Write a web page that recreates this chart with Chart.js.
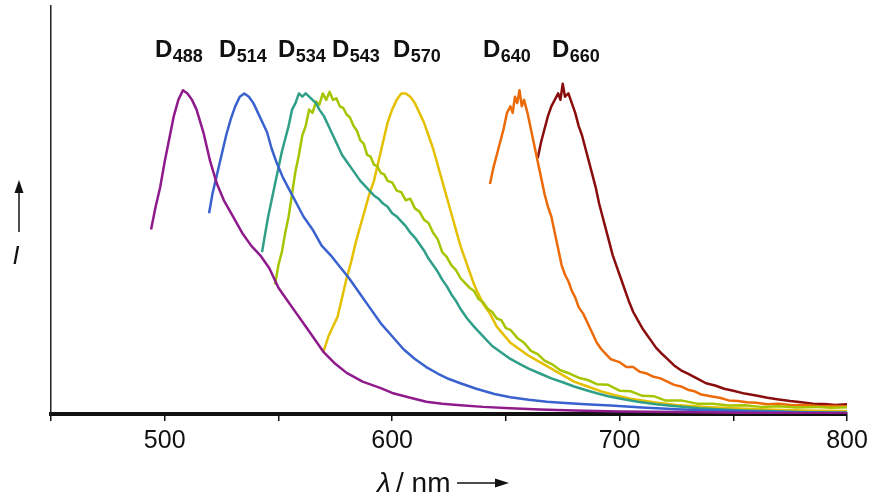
<!DOCTYPE html>
<html>
<head>
<meta charset="utf-8">
<script src="https://cdn.jsdelivr.net/npm/chart.js@4"></script>
<style>
  html, body { margin: 0; padding: 0; background: #fff; }
  #wrap { position: relative; width: 879px; height: 499px; }
</style>
</head>
<body>
<div id="wrap"><canvas id="spectra"></canvas></div>
<script>
// emission spectra, [wavelength nm, normalised intensity]
const d488 = [[494,0.57],[496,0.64],[498,0.70],[500,0.78],[502,0.85],[504,0.92],[506,0.97],[508,1.00],[510,0.99],[512,0.97],[514,0.94],[517,0.87],[520,0.78],[523,0.71],[526,0.66],[530,0.61],[534,0.56],[538,0.52],[542,0.49],[546,0.45],[550,0.39],[554,0.35],[558,0.31],[562,0.27],[566,0.23],[570,0.19],[575,0.155],[580,0.127],[587,0.10],[595,0.08],[600,0.065],[608,0.05],[615,0.038],[622,0.032],[630,0.027],[640,0.022],[652,0.018],[665,0.014],[680,0.011],[700,0.008],[725,0.006],[750,0.004],[775,0.003],[800,0.002]];
const d514 = [[519.5,0.62],[521,0.68],[523,0.74],[525,0.80],[527,0.86],[529,0.91],[531,0.95],[533,0.98],[535,0.99],[537,0.98],[539,0.96],[541,0.93],[543,0.90],[545,0.87],[547,0.82],[549,0.78],[552,0.73],[555,0.69],[558,0.65],[561,0.61],[565,0.57],[569,0.52],[573,0.49],[577,0.455],[581,0.42],[585,0.38],[590,0.33],[595,0.28],[600,0.24],[605,0.20],[610,0.17],[615,0.145],[620,0.125],[625,0.108],[630,0.095],[637,0.078],[645,0.062],[652,0.052],[660,0.044],[668,0.038],[676,0.034],[685,0.03],[696,0.026],[710,0.02],[725,0.015],[740,0.011],[760,0.008],[780,0.005],[800,0.004]];
const d534 = [[542.8,0.50],[544,0.55],[545.5,0.61],[547,0.66],[548.5,0.71],[550,0.76],[551.5,0.81],[553,0.85],[554.5,0.89],[556,0.94],[557.5,0.96],[559,0.99],[560.5,0.98],[562,0.99],[563.5,0.98],[565,0.97],[566.5,0.96],[568,0.94],[570,0.92],[572,0.89],[574,0.86],[576,0.83],[578,0.80],[580,0.78],[582,0.76],[584,0.74],[586,0.72],[588,0.705],[590,0.69],[592,0.675],[594,0.665],[596,0.65],[598,0.64],[600,0.62],[602,0.61],[604,0.595],[606,0.58],[608,0.56],[610,0.545],[612,0.525],[614,0.505],[616,0.48],[618,0.46],[620,0.44],[622,0.415],[624,0.395],[626,0.37],[628,0.35],[630,0.325],[633,0.295],[636,0.27],[640,0.24],[644,0.21],[648,0.19],[652,0.17],[656,0.155],[660,0.14],[665,0.125],[670,0.11],[675,0.098],[680,0.085],[685,0.074],[690,0.064],[695,0.055],[700,0.048],[708,0.038],[716,0.03],[725,0.024],[735,0.018],[745,0.014],[755,0.011],[765,0.009],[775,0.007],[788,0.005],[800,0.004]];
const d543 = [[548.5,0.40],[550,0.46],[551.5,0.50],[553,0.56],[554.5,0.61],[556,0.68],[557.5,0.75],[559,0.80],[560.5,0.86],[562,0.89],[563.5,0.94],[565,0.93],[566.5,0.965],[568,0.955],[569.5,0.99],[571,0.97],[572.5,0.995],[574,0.97],[575.5,0.975],[577,0.95],[578.5,0.945],[580,0.925],[581.5,0.915],[583,0.89],[584.5,0.875],[586,0.845],[587.5,0.835],[589,0.80],[590.5,0.795],[592,0.77],[593.5,0.765],[595,0.745],[596.5,0.74],[598,0.72],[600,0.715],[602,0.69],[604,0.685],[606,0.66],[608,0.665],[610,0.635],[612,0.625],[614,0.60],[616,0.59],[618,0.56],[620,0.54],[622,0.50],[624,0.485],[626,0.46],[628,0.445],[630,0.42],[632,0.405],[634,0.39],[636,0.38],[638,0.355],[640,0.345],[642,0.325],[644,0.315],[646,0.295],[648,0.29],[650,0.265],[652,0.26],[655,0.235],[658,0.22],[661,0.195],[664,0.185],[667,0.165],[670,0.155],[674,0.135],[678,0.125],[682,0.112],[686,0.105],[690,0.092],[695,0.09],[700,0.072],[705,0.07],[710,0.056],[715,0.055],[720,0.042],[727,0.042],[734,0.032],[741,0.032],[748,0.026],[755,0.027],[762,0.022],[770,0.024],[778,0.02],[786,0.022],[793,0.019],[800,0.021]];
const d570 = [[569.7,0.19],[572,0.24],[574,0.27],[576,0.30],[578,0.36],[580,0.42],[582,0.47],[584,0.53],[586,0.58],[588,0.63],[590,0.68],[592,0.72],[594,0.78],[596,0.84],[598,0.90],[600,0.94],[602,0.97],[604,0.99],[606,0.99],[608,0.98],[610,0.96],[612,0.93],[614,0.90],[616,0.86],[618,0.82],[620,0.77],[622,0.72],[624,0.67],[626,0.62],[628,0.57],[630,0.52],[632,0.48],[634,0.44],[636,0.40],[638,0.37],[640,0.34],[643,0.31],[646,0.27],[649,0.245],[652,0.22],[656,0.20],[660,0.18],[665,0.16],[670,0.14],[675,0.12],[680,0.10],[686,0.085],[692,0.07],[698,0.058],[705,0.047],[715,0.036],[725,0.028],[738,0.022],[750,0.018],[765,0.014],[780,0.011],[800,0.009]];
const d640 = [[643,0.71],[644.5,0.76],[646,0.80],[647.5,0.84],[649,0.88],[650.5,0.93],[652,0.95],[653,0.93],[654,0.98],[655,0.96],[656,1.00],[657,0.95],[658,0.97],[659.5,0.93],[661,0.88],[662.5,0.83],[664,0.78],[665.5,0.73],[667,0.68],[668.5,0.64],[670,0.61],[671.5,0.56],[673,0.51],[674.5,0.46],[676,0.43],[677.5,0.41],[679,0.38],[680.5,0.36],[682,0.33],[684,0.31],[686,0.28],[688,0.25],[690,0.22],[692,0.20],[694,0.185],[696,0.17],[698,0.165],[700,0.16],[703,0.145],[706,0.145],[709,0.13],[712,0.125],[715,0.115],[718,0.11],[721,0.10],[724,0.09],[727,0.085],[730,0.075],[733,0.07],[736,0.06],[740,0.055],[744,0.05],[748,0.042],[752,0.04],[756,0.036],[760,0.035],[765,0.03],[770,0.032],[776,0.027],[782,0.028],[788,0.024],[794,0.025],[800,0.023]];
const d660 = [[664,0.79],[665.5,0.84],[667,0.88],[668.5,0.92],[670,0.95],[671.5,0.97],[673,0.99],[674,0.97],[675,1.02],[676,0.98],[677.5,0.99],[679,0.96],[680.5,0.93],[682,0.89],[683.5,0.86],[685,0.82],[686.5,0.78],[688,0.74],[689.5,0.70],[691,0.65],[692.5,0.61],[694,0.57],[695.5,0.53],[697,0.49],[698.5,0.46],[700,0.43],[702,0.39],[704,0.35],[706,0.315],[708,0.29],[710,0.265],[712,0.245],[714,0.225],[716,0.205],[718,0.19],[721,0.17],[724,0.15],[727,0.135],[730,0.125],[734,0.11],[738,0.095],[742,0.088],[746,0.078],[750,0.072],[755,0.063],[760,0.057],[765,0.05],[770,0.045],[775,0.04],[780,0.036],[785,0.032],[790,0.031],[795,0.028],[800,0.03]];

const series = [d488, d514, d534, d543, d570, d640, d660];
const dyeNames = ['488', '514', '534', '543', '570', '640', '660'];
const dyeColors = ['#8f1a8c', '#3a62cf', '#2f9f88', '#a6c400', '#e5c000', '#ec6b08', '#8a0d0d'];
const tickLabels = [500, 600, 700, 800];

// where the D-labels sit (left edge, px) above each peak
const labelLeft = [155, 219, 278, 332, 393, 483, 552];
const FONT = "'Liberation Sans', Arial, sans-serif";

const annotate = {
  id: 'annotate',
  afterDraw(chart) {
    const ctx = chart.ctx;
    ctx.save();
    ctx.fillStyle = '#111';
    ctx.textBaseline = 'alphabetic';
    ctx.textAlign = 'left';

    // D labels with subscript
    dyeNames.forEach((n, i) => {
      const x = labelLeft[i];
      ctx.font = 'bold 24px ' + FONT;
      ctx.fillText('D', x, 57);
      const w = ctx.measureText('D').width;
      ctx.font = 'bold 18px ' + FONT;
      ctx.fillText(n, x + w + 0.5, 62);
    });

    // y title: arrow and I
    ctx.strokeStyle = '#111';
    ctx.lineWidth = 1.5;
    ctx.beginPath();
    ctx.moveTo(19, 232);
    ctx.lineTo(19, 190);
    ctx.stroke();
    ctx.beginPath();
    ctx.moveTo(19, 180);
    ctx.lineTo(14.5, 193);
    ctx.lineTo(23.5, 193);
    ctx.closePath();
    ctx.fill();
    ctx.font = 'italic 25px ' + FONT;
    ctx.textAlign = 'center';
    ctx.fillText('I', 16, 264);

    // x title: lambda / nm -->
    ctx.textAlign = 'left';
    ctx.font = 'italic 28px ' + FONT;
    ctx.fillText('\u03bb', 377, 492);
    ctx.font = '28px ' + FONT;
    ctx.fillText('/ nm', 396, 492);
    ctx.beginPath();
    ctx.moveTo(457, 483);
    ctx.lineTo(497, 483);
    ctx.stroke();
    ctx.beginPath();
    ctx.moveTo(509, 483);
    ctx.lineTo(495, 478.5);
    ctx.lineTo(495, 487.5);
    ctx.closePath();
    ctx.fill();
    ctx.restore();
  }
};

new Chart(document.getElementById('spectra'), {
  type: 'line',
  data: {
    datasets: series.map((pts, i) => ({
      label: 'D' + dyeNames[i],
      data: pts.map(p => ({ x: p[0], y: p[1] })),
      borderColor: dyeColors[i],
      borderWidth: 2.5,
      pointRadius: 0,
      tension: 0,
      fill: false,
      borderJoinStyle: 'round'
    }))
  },
  options: {
    responsive: true,
    maintainAspectRatio: false,
    animation: false,
    layout: { padding: { top: 6, right: 32, left: 0, bottom: 0 } },
    plugins: { legend: { display: false }, tooltip: { enabled: false } },
    scales: {
      x: {
        type: 'linear',
        min: 450,
        max: 800,
        afterFit(scale) { scale.height = 85; },
        grid: { display: true, drawOnChartArea: false, drawTicks: true, tickLength: 7, color: '#111', lineWidth: 1.5 },
        border: { display: true, color: '#111', width: 4 },
        ticks: {
          stepSize: 50,
          padding: 5,
          color: '#111',
          font: { family: FONT, size: 25 },
          maxRotation: 0,
          autoSkip: false,
          callback: v => tickLabels.includes(v) ? String(v) : ''
        }
      },
      y: {
        min: 0,
        max: 1.26,
        afterFit(scale) { scale.width = 51; },
        grid: { display: false, drawTicks: false },
        border: { display: true, color: '#222', width: 1.5 },
        ticks: { display: false }
      }
    }
  },
  plugins: [annotate]
});
</script>
</body>
</html>
